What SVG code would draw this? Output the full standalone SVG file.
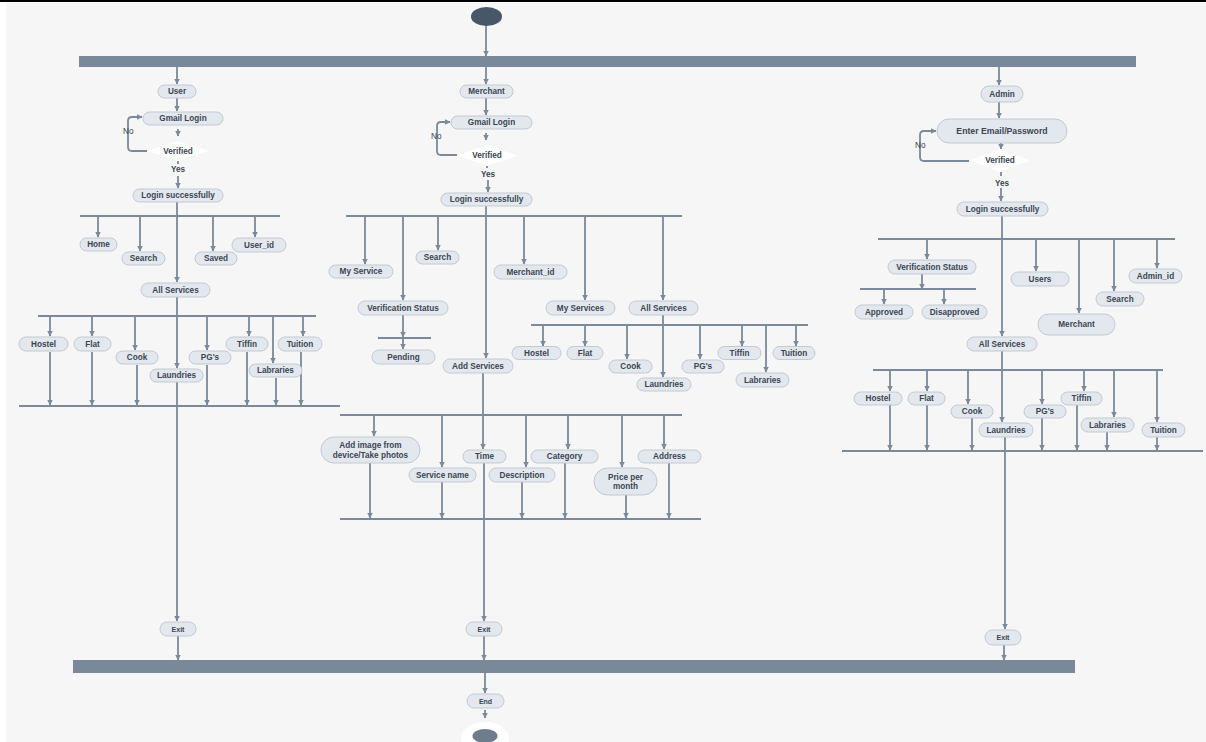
<svg xmlns="http://www.w3.org/2000/svg" width="1206" height="742" viewBox="0 0 1206 742">
<defs>
<style>
.p{fill:#e3e8ef;stroke:#c2c9d2;stroke-width:1}
.t{font-family:"Liberation Sans",Arial,sans-serif;font-weight:bold;font-size:8.2px;fill:#3b4552;text-anchor:middle;dominant-baseline:central}
.s{font-size:7px}
.lbl{font-family:"Liberation Sans",Arial,sans-serif;font-size:8.2px;fill:#3b4552}
.c path{fill:none;stroke:#7b8a9a;stroke-width:1.8}
.bar{fill:#7a899a}
.dia{fill:#ffffff}
</style>
<marker id="a" viewBox="0 0 6 6" refX="5.5" refY="3" markerWidth="6" markerHeight="6" markerUnits="userSpaceOnUse" orient="auto">
<path d="M0,0 L6,3 L0,6 z" fill="#7b8a9a"/>
</marker>
</defs>
<rect width="1206" height="742" fill="#ffffff"/>
<rect x="6" y="3" width="1200" height="739" fill="#f6f6f6"/>
<rect x="0" y="0" width="1206" height="2" fill="#000000"/>

<g id="start"><ellipse cx="486.5" cy="16.5" rx="15.5" ry="9.5" fill="#475767"/></g>
<g id="fork-top"><rect class="bar" x="79" y="56" width="1057" height="11"/></g>
<g id="join-bottom"><rect class="bar" x="73" y="660" width="1002" height="13"/></g>
<g id="end"><ellipse cx="485" cy="738" rx="24" ry="16" fill="#ffffff"/><ellipse cx="485" cy="736" rx="12.5" ry="7" fill="#6e7d8d"/></g>

<g class="c" id="connectors">
<!-- left -->
<path d="M177,67 V84" marker-end="url(#a)"/>
<path d="M177,98 V111" marker-end="url(#a)"/>
<path d="M178,129 V136" marker-end="url(#a)"/>
<path d="M147,151 H132 Q128,151 128,147 V121 Q128,117 132,117 H142" marker-end="url(#a)"/>
<path d="M178,161 V164"/>
<path d="M178,176 V188" marker-end="url(#a)"/>
<path d="M177,202 V282" marker-end="url(#a)"/>
<path d="M80,216 H280"/>
<path d="M98,216 V237" marker-end="url(#a)"/>
<path d="M140,216 V251" marker-end="url(#a)"/>
<path d="M213,216 V251" marker-end="url(#a)"/>
<path d="M255,216 V237" marker-end="url(#a)"/>
<path d="M177,297 V368" marker-end="url(#a)"/>
<path d="M38,316 H316"/>
<path d="M50,316 V336" marker-end="url(#a)"/>
<path d="M92,316 V336" marker-end="url(#a)"/>
<path d="M135,316 V350" marker-end="url(#a)"/>
<path d="M207,316 V350" marker-end="url(#a)"/>
<path d="M249,316 V336" marker-end="url(#a)"/>
<path d="M273,316 V363" marker-end="url(#a)"/>
<path d="M303,316 V336" marker-end="url(#a)"/>
<path d="M19,406 H340"/>
<path d="M50,352 V405" marker-end="url(#a)"/>
<path d="M92,352 V405" marker-end="url(#a)"/>
<path d="M137,365 V405" marker-end="url(#a)"/>
<path d="M207,365 V405" marker-end="url(#a)"/>
<path d="M247,352 V405" marker-end="url(#a)"/>
<path d="M276,378 V405" marker-end="url(#a)"/>
<path d="M301,352 V405" marker-end="url(#a)"/>
<path d="M177,382 V621" marker-end="url(#a)"/>
<path d="M178,636 V660" marker-end="url(#a)"/>
<!-- middle -->
<path d="M486,26 V56" marker-end="url(#a)"/>
<path d="M486,67 V84" marker-end="url(#a)"/>
<path d="M486,98 V115" marker-end="url(#a)"/>
<path d="M486,133 V140" marker-end="url(#a)"/>
<path d="M457,155 H441 Q437,155 437,151 V126 Q437,122 441,122 H450" marker-end="url(#a)"/>
<path d="M487,166 V168"/>
<path d="M488,180 V192" marker-end="url(#a)"/>
<path d="M486,206 V358" marker-end="url(#a)"/>
<path d="M346,216 H682"/>
<path d="M365,216 V264" marker-end="url(#a)"/>
<path d="M403,216 V300" marker-end="url(#a)"/>
<path d="M438,216 V250" marker-end="url(#a)"/>
<path d="M524,216 V264" marker-end="url(#a)"/>
<path d="M585,216 V300" marker-end="url(#a)"/>
<path d="M663,216 V300" marker-end="url(#a)"/>
<path d="M403,315 V337" marker-end="url(#a)"/>
<path d="M378,338 H431"/>
<path d="M403,338 V349" marker-end="url(#a)"/>
<path d="M663,315 V377" marker-end="url(#a)"/>
<path d="M531,325 H808"/>
<path d="M543,325 V346" marker-end="url(#a)"/>
<path d="M585,325 V346" marker-end="url(#a)"/>
<path d="M627,325 V359" marker-end="url(#a)"/>
<path d="M700,325 V359" marker-end="url(#a)"/>
<path d="M742,325 V346" marker-end="url(#a)"/>
<path d="M766,325 V372" marker-end="url(#a)"/>
<path d="M796,325 V346" marker-end="url(#a)"/>
<path d="M483,373 V449" marker-end="url(#a)"/>
<path d="M340,415 H682"/>
<path d="M374,415 V436" marker-end="url(#a)"/>
<path d="M442,415 V467" marker-end="url(#a)"/>
<path d="M526,415 V467" marker-end="url(#a)"/>
<path d="M568,415 V449" marker-end="url(#a)"/>
<path d="M622,415 V467" marker-end="url(#a)"/>
<path d="M664,415 V449" marker-end="url(#a)"/>
<path d="M340,519 H701"/>
<path d="M370,463 V518" marker-end="url(#a)"/>
<path d="M442,482 V518" marker-end="url(#a)"/>
<path d="M522,482 V518" marker-end="url(#a)"/>
<path d="M565,463 V518" marker-end="url(#a)"/>
<path d="M626,495 V518" marker-end="url(#a)"/>
<path d="M669,463 V518" marker-end="url(#a)"/>
<path d="M484,463 V621" marker-end="url(#a)"/>
<path d="M484,636 V660" marker-end="url(#a)"/>
<path d="M485,673 V693" marker-end="url(#a)"/>
<path d="M485,710 V718" marker-end="url(#a)"/>
<!-- right -->
<path d="M999,67 V85" marker-end="url(#a)"/>
<path d="M999,102 V118" marker-end="url(#a)"/>
<path d="M1001,143 V149" marker-end="url(#a)"/>
<path d="M969,161 H924 Q920,161 920,157 V135 Q920,131 924,131 H936" marker-end="url(#a)"/>
<path d="M1001,172 V176"/>
<path d="M1001,188 V201" marker-end="url(#a)"/>
<path d="M1002,216 V336" marker-end="url(#a)"/>
<path d="M878,239 H1175"/>
<path d="M927,239 V259" marker-end="url(#a)"/>
<path d="M1036,239 V271" marker-end="url(#a)"/>
<path d="M1079,239 V313" marker-end="url(#a)"/>
<path d="M1114,239 V291" marker-end="url(#a)"/>
<path d="M1157,239 V268" marker-end="url(#a)"/>
<path d="M922,274 V289" marker-end="url(#a)"/>
<path d="M860,289 H976"/>
<path d="M884,289 V304" marker-end="url(#a)"/>
<path d="M944,289 V304" marker-end="url(#a)"/>
<path d="M1002,351 V422" marker-end="url(#a)"/>
<path d="M873,370 H1163"/>
<path d="M890,370 V391" marker-end="url(#a)"/>
<path d="M927,370 V391" marker-end="url(#a)"/>
<path d="M968,370 V404" marker-end="url(#a)"/>
<path d="M1042,370 V404" marker-end="url(#a)"/>
<path d="M1084,370 V391" marker-end="url(#a)"/>
<path d="M1114,370 V417" marker-end="url(#a)"/>
<path d="M1157,370 V422" marker-end="url(#a)"/>
<path d="M842,451 H1203"/>
<path d="M890,405 V450" marker-end="url(#a)"/>
<path d="M927,405 V450" marker-end="url(#a)"/>
<path d="M972,418 V450" marker-end="url(#a)"/>
<path d="M1042,418 V450" marker-end="url(#a)"/>
<path d="M1077,405 V450" marker-end="url(#a)"/>
<path d="M1107,432 V450" marker-end="url(#a)"/>
<path d="M1157,437 V450" marker-end="url(#a)"/>
<path d="M1005,437 V629" marker-end="url(#a)"/>
<path d="M1004,645 V660" marker-end="url(#a)"/>
</g>

<!-- edge labels -->
<g id="labels">
<text class="lbl" x="123" y="134">No</text>
<text class="lbl" x="431" y="139">No</text>
<text class="lbl" x="915" y="148">No</text>
<text class="t" x="178" y="169">Yes</text>
<text class="t" x="488" y="174">Yes</text>
<text class="t" x="1002" y="183">Yes</text>
</g>

<!-- left column: User -->
<g id="u-user"><rect class="p" x="158" y="85" width="38" height="13" rx="6.5"/><text class="t" x="177" y="91.5">User</text></g>
<g id="u-gmail"><rect class="p" x="143" y="112" width="80" height="13" rx="6.5"/><text class="t" x="183" y="118.5">Gmail Login</text></g>
<g id="u-verified"><polygon class="dia" points="148,151 178,141 208,151 178,161"/><text class="t" x="178" y="151">Verified</text></g>
<g id="u-login"><rect class="p" x="133" y="189" width="90" height="13" rx="6.5"/><text class="t" x="178" y="195.5">Login successfully</text></g>
<g id="u-home"><rect class="p" x="80" y="238" width="37" height="13" rx="6.5"/><text class="t" x="98.5" y="244.5">Home</text></g>
<g id="u-search"><rect class="p" x="122" y="252" width="43" height="13" rx="6.5"/><text class="t" x="143.5" y="258.5">Search</text></g>
<g id="u-saved"><rect class="p" x="195" y="252" width="42" height="13" rx="6.5"/><text class="t" x="216" y="258.5">Saved</text></g>
<g id="u-userid"><rect class="p" x="232" y="238" width="54" height="14" rx="7"/><text class="t" x="259" y="245">User_id</text></g>
<g id="u-all"><rect class="p" x="141" y="283" width="69" height="14" rx="7"/><text class="t" x="175.5" y="290">All Services</text></g>
<g id="u-hostel"><rect class="p" x="19" y="337" width="49" height="14" rx="7"/><text class="t" x="43.5" y="344">Hostel</text></g>
<g id="u-flat"><rect class="p" x="74" y="337" width="37" height="14" rx="7"/><text class="t" x="92.5" y="344">Flat</text></g>
<g id="u-cook"><rect class="p" x="116" y="351" width="42" height="13" rx="6.5"/><text class="t" x="137" y="357.5">Cook</text></g>
<g id="u-laundries"><rect class="p" x="150" y="369" width="53" height="13" rx="6.5"/><text class="t" x="176.5" y="375.5">Laundries</text></g>
<g id="u-pg"><rect class="p" x="189" y="351" width="42" height="13" rx="6.5"/><text class="t" x="210" y="357.5">PG's</text></g>
<g id="u-tiffin"><rect class="p" x="226" y="337" width="42" height="14" rx="7"/><text class="t" x="247" y="344">Tiffin</text></g>
<g id="u-labraries"><rect class="p" x="249" y="364" width="53" height="13" rx="6.5"/><text class="t" x="275.5" y="370.5">Labraries</text></g>
<g id="u-tuition"><rect class="p" x="278" y="337" width="44" height="14" rx="7"/><text class="t" x="300" y="344">Tuition</text></g>
<g id="u-exit"><rect class="p" x="160" y="622" width="36" height="14" rx="7"/><text class="t s" x="178" y="629">Exit</text></g>

<!-- middle column: Merchant -->
<g id="m-merchant"><rect class="p" x="460" y="85" width="53" height="13" rx="6.5"/><text class="t" x="486.5" y="91.5">Merchant</text></g>
<g id="m-gmail"><rect class="p" x="451" y="116" width="81" height="13" rx="6.5"/><text class="t" x="491.5" y="122.5">Gmail Login</text></g>
<g id="m-verified"><polygon class="dia" points="457,155.5 487,145 517,155.5 487,166"/><text class="t" x="487" y="155.5">Verified</text></g>
<g id="m-login"><rect class="p" x="441" y="193" width="91" height="13" rx="6.5"/><text class="t" x="486.5" y="199.5">Login successfully</text></g>
<g id="m-myservice"><rect class="p" x="329" y="265" width="64" height="13" rx="6.5"/><text class="t" x="361" y="271.5">My Service</text></g>
<g id="m-search"><rect class="p" x="416" y="251" width="43" height="13" rx="6.5"/><text class="t" x="437.5" y="257.5">Search</text></g>
<g id="m-verif"><rect class="p" x="358" y="301" width="90" height="14" rx="7"/><text class="t" x="403" y="308">Verification Status</text></g>
<g id="m-pending"><rect class="p" x="372" y="350" width="63" height="14" rx="7"/><text class="t" x="403.5" y="357">Pending</text></g>
<g id="m-add"><rect class="p" x="443" y="359" width="70" height="14" rx="7"/><text class="t" x="478" y="366">Add Services</text></g>
<g id="m-merchantid"><rect class="p" x="494" y="265" width="73" height="14" rx="7"/><text class="t" x="530.5" y="272">Merchant_id</text></g>
<g id="m-myservices"><rect class="p" x="546" y="301" width="69" height="14" rx="7"/><text class="t" x="580.5" y="308">My Services</text></g>
<g id="m-all"><rect class="p" x="629" y="301" width="69" height="14" rx="7"/><text class="t" x="663.5" y="308">All Services</text></g>
<g id="m-hostel"><rect class="p" x="512" y="346.5" width="49" height="13" rx="6.5"/><text class="t" x="536.5" y="353">Hostel</text></g>
<g id="m-flat"><rect class="p" x="567" y="346.5" width="36" height="13" rx="6.5"/><text class="t" x="585" y="353">Flat</text></g>
<g id="m-cook"><rect class="p" x="609" y="360" width="43" height="13" rx="6.5"/><text class="t" x="630.5" y="366.5">Cook</text></g>
<g id="m-laundries"><rect class="p" x="637" y="378" width="54" height="13" rx="6.5"/><text class="t" x="664" y="384.5">Laundries</text></g>
<g id="m-pg"><rect class="p" x="682" y="360" width="42" height="13" rx="6.5"/><text class="t" x="703" y="366.5">PG's</text></g>
<g id="m-tiffin"><rect class="p" x="718" y="346.5" width="43" height="13" rx="6.5"/><text class="t" x="739.5" y="353">Tiffin</text></g>
<g id="m-labraries"><rect class="p" x="736" y="373" width="53" height="14" rx="7"/><text class="t" x="762.5" y="380">Labraries</text></g>
<g id="m-tuition"><rect class="p" x="773" y="346.5" width="42" height="13" rx="6.5"/><text class="t" x="794" y="353">Tuition</text></g>
<g id="m-image"><rect class="p" x="321" y="437" width="99" height="26" rx="13"/><text class="t" x="370.5" y="445.5">Add image from</text><text class="t" x="370.5" y="455">device/Take photos</text></g>
<g id="m-servicename"><rect class="p" x="409" y="468" width="67" height="14" rx="7"/><text class="t" x="442.5" y="475">Service name</text></g>
<g id="m-time"><rect class="p" x="463" y="450" width="43" height="13" rx="6.5"/><text class="t" x="484.5" y="456.5">Time</text></g>
<g id="m-description"><rect class="p" x="489" y="468" width="66" height="14" rx="7"/><text class="t" x="522" y="475">Description</text></g>
<g id="m-category"><rect class="p" x="531" y="450" width="67" height="13" rx="6.5"/><text class="t" x="564.5" y="456.5">Category</text></g>
<g id="m-price"><rect class="p" x="594" y="468" width="63" height="27" rx="13.5"/><text class="t" x="625.5" y="477">Price per</text><text class="t" x="625.5" y="486.5">month</text></g>
<g id="m-address"><rect class="p" x="638" y="450" width="63" height="13" rx="6.5"/><text class="t" x="669.5" y="456.5">Address</text></g>
<g id="m-exit"><rect class="p" x="466" y="622" width="36" height="14" rx="7"/><text class="t s" x="484" y="629">Exit</text></g>
<g id="m-end"><rect class="p" x="467" y="694" width="37" height="14" rx="7"/><text class="t s" x="485.5" y="701">End</text></g>

<!-- right column: Admin -->
<g id="a-admin"><rect class="p" x="981" y="86" width="42" height="16" rx="8"/><text class="t" x="1002" y="94">Admin</text></g>
<g id="a-enter"><rect class="p" x="937" y="119" width="130" height="24" rx="12"/><text class="t" x="1002" y="131" style="font-size:8.7px">Enter Email/Password</text></g>
<g id="a-verified"><polygon class="dia" points="970,160.5 1000,149 1030,160.5 1000,172"/><text class="t" x="1000" y="160.5">Verified</text></g>
<g id="a-login"><rect class="p" x="957" y="202" width="91" height="14" rx="7"/><text class="t" x="1002.5" y="209">Login successfully</text></g>
<g id="a-verif"><rect class="p" x="888" y="260" width="88" height="14" rx="7"/><text class="t" x="932" y="267">Verification Status</text></g>
<g id="a-users"><rect class="p" x="1011" y="272" width="58" height="14" rx="7"/><text class="t" x="1040" y="279">Users</text></g>
<g id="a-adminid"><rect class="p" x="1129" y="269" width="53" height="14" rx="7"/><text class="t" x="1155.5" y="276">Admin_id</text></g>
<g id="a-search"><rect class="p" x="1096" y="292" width="48" height="14" rx="7"/><text class="t" x="1120" y="299">Search</text></g>
<g id="a-merchant"><rect class="p" x="1038" y="314" width="77" height="21" rx="10.5"/><text class="t" x="1076.5" y="324.5">Merchant</text></g>
<g id="a-approved"><rect class="p" x="855" y="305" width="58" height="14" rx="7"/><text class="t" x="884" y="312">Approved</text></g>
<g id="a-disapproved"><rect class="p" x="922" y="305" width="65" height="14" rx="7"/><text class="t" x="954.5" y="312">Disapproved</text></g>
<g id="a-all"><rect class="p" x="967" y="337" width="70" height="14" rx="7"/><text class="t" x="1002" y="344">All Services</text></g>
<g id="a-hostel"><rect class="p" x="854" y="392" width="48" height="13" rx="6.5"/><text class="t" x="878" y="398.5">Hostel</text></g>
<g id="a-flat"><rect class="p" x="908" y="392" width="37" height="13" rx="6.5"/><text class="t" x="926.5" y="398.5">Flat</text></g>
<g id="a-cook"><rect class="p" x="951" y="405" width="42" height="13" rx="6.5"/><text class="t" x="972" y="411.5">Cook</text></g>
<g id="a-laundries"><rect class="p" x="979" y="423" width="54" height="14" rx="7"/><text class="t" x="1006" y="430">Laundries</text></g>
<g id="a-pg"><rect class="p" x="1024" y="405" width="42" height="13" rx="6.5"/><text class="t" x="1045" y="411.5">PG's</text></g>
<g id="a-tiffin"><rect class="p" x="1061" y="392" width="41" height="13" rx="6.5"/><text class="t" x="1081.5" y="398.5">Tiffin</text></g>
<g id="a-labraries"><rect class="p" x="1081" y="418" width="53" height="14" rx="7"/><text class="t" x="1107.5" y="425">Labraries</text></g>
<g id="a-tuition"><rect class="p" x="1142" y="423" width="43" height="14" rx="7"/><text class="t" x="1163.5" y="430">Tuition</text></g>
<g id="a-exit"><rect class="p" x="985" y="630" width="36" height="15" rx="7.5"/><text class="t s" x="1003" y="637.5">Exit</text></g>
</svg>
